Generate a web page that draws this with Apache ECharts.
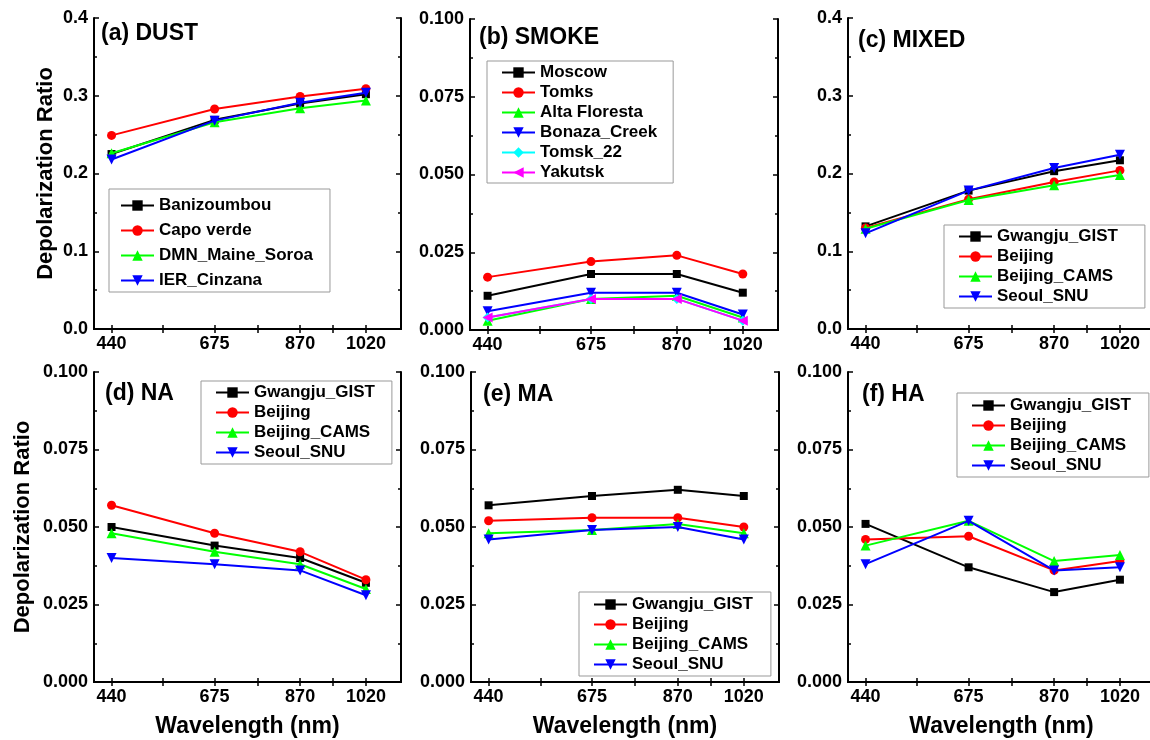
<!DOCTYPE html>
<html>
<head>
<meta charset="utf-8">
<script src="https://cdn.jsdelivr.net/npm/echarts@6/dist/echarts.min.js"></script>
<style>
  html, body { margin: 0; padding: 0; background: #fff; }
  #chart { width: 1150px; height: 740px; }
</style>
</head>
<body>
<div id="chart"></div>
<script>
// wavelengths (nm) and tick positions
const wavelengths = [440, 675, 870, 1020];
const xTickValues = [440, 557.5, 675, 772.5, 870, 945, 1020];

// (a) DUST
const dustSites = ['Banizoumbou', 'Capo verde', 'DMN_Maine_Soroa', 'IER_Cinzana'];
const dustBanizoumbou = [0.225, 0.269, 0.290, 0.302];
const dustCapoVerde = [0.249, 0.283, 0.299, 0.309];
const dustMaineSoroa = [0.226, 0.266, 0.284, 0.294];
const dustCinzana = [0.218, 0.268, 0.291, 0.304];

// (b) SMOKE
const smokeSites = ['Moscow', 'Tomks', 'Alta Floresta', 'Bonaza_Creek', 'Tomsk_22', 'Yakutsk'];
const smokeMoscow = [0.011, 0.018, 0.018, 0.012];
const smokeTomks = [0.017, 0.022, 0.024, 0.018];
const smokeAltaFloresta = [0.003, 0.010, 0.011, 0.004];
const smokeBonazaCreek = [0.006, 0.012, 0.012, 0.005];
const smokeTomsk22 = [0.004, 0.010, 0.010, 0.003];
const smokeYakutsk = [0.004, 0.010, 0.010, 0.003];

// (c)-(f) east asian sites
const asiaSites = ['Gwangju_GIST', 'Beijing', 'Beijing_CAMS', 'Seoul_SNU'];
const mixedGwangju = [0.132, 0.178, 0.203, 0.217];
const mixedBeijing = [0.130, 0.167, 0.189, 0.204];
const mixedBeijingCams = [0.129, 0.166, 0.185, 0.198];
const mixedSeoul = [0.123, 0.178, 0.207, 0.224];

const naGwangju = [0.050, 0.044, 0.040, 0.032];
const naBeijing = [0.057, 0.048, 0.042, 0.033];
const naBeijingCams = [0.048, 0.042, 0.038, 0.030];
const naSeoul = [0.040, 0.038, 0.036, 0.028];

const maGwangju = [0.057, 0.060, 0.062, 0.060];
const maBeijing = [0.052, 0.053, 0.053, 0.050];
const maBeijingCams = [0.048, 0.049, 0.051, 0.048];
const maSeoul = [0.046, 0.049, 0.050, 0.046];

const haGwangju = [0.051, 0.037, 0.029, 0.033];
const haBeijing = [0.046, 0.047, 0.036, 0.039];
const haBeijingCams = [0.044, 0.052, 0.039, 0.041];
const haSeoul = [0.038, 0.052, 0.036, 0.037];

const FONT = 'Arial, "Liberation Sans", sans-serif';

// marker / colour per series slot
const seriesStyles = [
  { color: '#000000', symbol: 'rect', size: 8 },
  { color: '#ff0000', symbol: 'circle', size: 9 },
  { color: '#00ff00', symbol: 'triangle', size: 10 },
  { color: '#0000ff', symbol: 'path://M0,0L2,0L1,2Z', size: 10 },
  { color: '#00ffff', symbol: 'diamond', size: 10 },
  { color: '#ff00ff', symbol: 'path://M2,0L2,2L0,1Z', size: 10 }
];

const panels = [
  { title: '(a) DUST', names: dustSites,
    values: [dustBanizoumbou, dustCapoVerde, dustMaineSoroa, dustCinzana],
    yMax: 0.4, yStep: 0.1, digits: 1,
    grid: { left: 94, top: 18, width: 307, height: 311 },
    titlePos: { left: 101, top: 22 },
    legend: { left: 109, top: 189, itemGap: 8, padding: [8, 17, 3, 11] },
    yName: true, xName: false, yNameGap: 37 },
  { title: '(b) SMOKE', names: smokeSites,
    values: [smokeMoscow, smokeTomks, smokeAltaFloresta, smokeBonazaCreek, smokeTomsk22, smokeYakutsk],
    yMax: 0.1, yStep: 0.025, digits: 3,
    grid: { left: 470, top: 19, width: 308, height: 311 },
    titlePos: { left: 479, top: 26 },
    legend: { left: 487, top: 61, itemGap: 3, padding: [3, 16, 2, 14] },
    yName: false, xName: false },
  { title: '(c) MIXED', names: asiaSites,
    values: [mixedGwangju, mixedBeijing, mixedBeijingCams, mixedSeoul],
    yMax: 0.4, yStep: 0.1, digits: 1,
    grid: { left: 848, top: 18, width: 307, height: 311 },
    titlePos: { left: 858, top: 29 },
    legend: { left: 944, top: 225, itemGap: 3, padding: [3, 27, 3, 14] },
    yName: false, xName: false },
  { title: '(d) NA', names: asiaSites,
    values: [naGwangju, naBeijing, naBeijingCams, naSeoul],
    yMax: 0.1, yStep: 0.025, digits: 3,
    grid: { left: 94, top: 372, width: 307, height: 310 },
    titlePos: { left: 105, top: 382 },
    legend: { left: 201, top: 381, itemGap: 3, padding: [3, 17, 3, 14] },
    yName: true, xName: true, yNameGap: 60 },
  { title: '(e) MA', names: asiaSites,
    values: [maGwangju, maBeijing, maBeijingCams, maSeoul],
    yMax: 0.1, yStep: 0.025, digits: 3,
    grid: { left: 471, top: 372, width: 308, height: 310 },
    titlePos: { left: 483, top: 383 },
    legend: { left: 579, top: 592, itemGap: 3, padding: [4, 18, 3, 14] },
    yName: false, xName: true },
  { title: '(f) HA', names: asiaSites,
    values: [haGwangju, haBeijing, haBeijingCams, haSeoul],
    yMax: 0.1, yStep: 0.025, digits: 3,
    grid: { left: 848, top: 372, width: 307, height: 310 },
    titlePos: { left: 862, top: 383 },
    legend: { left: 957, top: 393, itemGap: 3, padding: [4, 18, 3, 14] },
    yName: false, xName: true }
];

const axisLine = { show: true, lineStyle: { color: '#000', width: 2 } };
const grids = [], xAxes = [], yAxes = [], series = [], titles = [], legends = [];

panels.forEach((p, i) => {
  grids.push(Object.assign({ containLabel: false, outerBoundsMode: 'none' }, p.grid));
  titles.push({
    text: p.title, left: p.titlePos.left, top: p.titlePos.top, padding: 0,
    textStyle: { fontFamily: FONT, fontWeight: 'bold', fontSize: 23, color: '#000' }
  });

  // bottom (labelled) and top (mirror) x axes
  xAxes.push({
    type: 'value', gridIndex: i, position: 'bottom', min: 400, max: 1100,
    axisLine: axisLine,
    axisTick: { inside: true, length: 4, customValues: xTickValues, lineStyle: { color: '#000', width: 1.5 } },
    axisLabel: { customValues: wavelengths, margin: 6, color: '#000',
      fontFamily: FONT, fontWeight: 'bold', fontSize: 18, formatter: v => String(v) },
    splitLine: { show: false },
    name: p.xName ? 'Wavelength (nm)' : '', nameLocation: 'middle', nameGap: 33,
    nameTextStyle: { fontFamily: FONT, fontWeight: 'bold', fontSize: 23, color: '#000' }
  });
  xAxes.push({
    type: 'value', gridIndex: i, position: 'top', min: 400, max: 1100,
    axisLine: axisLine,
    axisTick: { inside: true, length: 4, customValues: xTickValues, lineStyle: { color: '#000', width: 1.5 } },
    axisLabel: { show: false },
    splitLine: { show: false }
  });

  // left (labelled) and right (mirror) y axes
  const yCommon = {
    type: 'value', gridIndex: i, min: 0, max: p.yMax, interval: p.yStep,
    axisLine: axisLine,
    axisTick: { inside: true, length: 5, lineStyle: { color: '#000', width: 1.5 } },
    minorTick: { show: true, splitNumber: 2, length: 3, lineStyle: { color: '#000', width: 1.5 } },
    splitLine: { show: false }
  };
  yAxes.push(Object.assign({}, yCommon, {
    position: 'left',
    axisLabel: { margin: 6, color: '#000', fontFamily: FONT, fontWeight: 'bold', fontSize: 18,
      formatter: v => v.toFixed(p.digits) },
    name: p.yName ? 'Depolarization Ratio' : '', nameLocation: 'middle', nameGap: p.yNameGap || 40,
    nameTextStyle: { fontFamily: FONT, fontWeight: 'bold', fontSize: 22, color: '#000' }
  }));
  yAxes.push(Object.assign({}, yCommon, {
    position: 'right', axisLabel: { show: false }
  }));

  p.names.forEach((name, k) => {
    const st = seriesStyles[k];
    series.push({
      name: name, type: 'line',
      xAxisIndex: 2 * i, yAxisIndex: 2 * i,
      data: wavelengths.map((w, j) => [w, p.values[k][j]]),
      symbol: st.symbol, symbolSize: st.size,
      lineStyle: { color: st.color, width: 2 },
      itemStyle: { color: st.color },
      z: 2 + k
    });
  });

  legends.push({
    data: p.names, orient: 'vertical',
    left: p.legend.left, top: p.legend.top,
    itemGap: p.legend.itemGap, itemWidth: 33, itemHeight: 13,
    padding: p.legend.padding,
    backgroundColor: '#fff', borderColor: '#999', borderWidth: 1, borderRadius: 0,
    textStyle: { fontFamily: FONT, fontWeight: 'bold', fontSize: 17, color: '#000' },
    selectedMode: false
  });
});

const chart = echarts.init(document.getElementById('chart'));
chart.setOption({
  backgroundColor: '#fff',
  animation: false,
  title: titles,
  grid: grids,
  xAxis: xAxes,
  yAxis: yAxes,
  legend: legends,
  series: series
});
</script>
</body>
</html>
